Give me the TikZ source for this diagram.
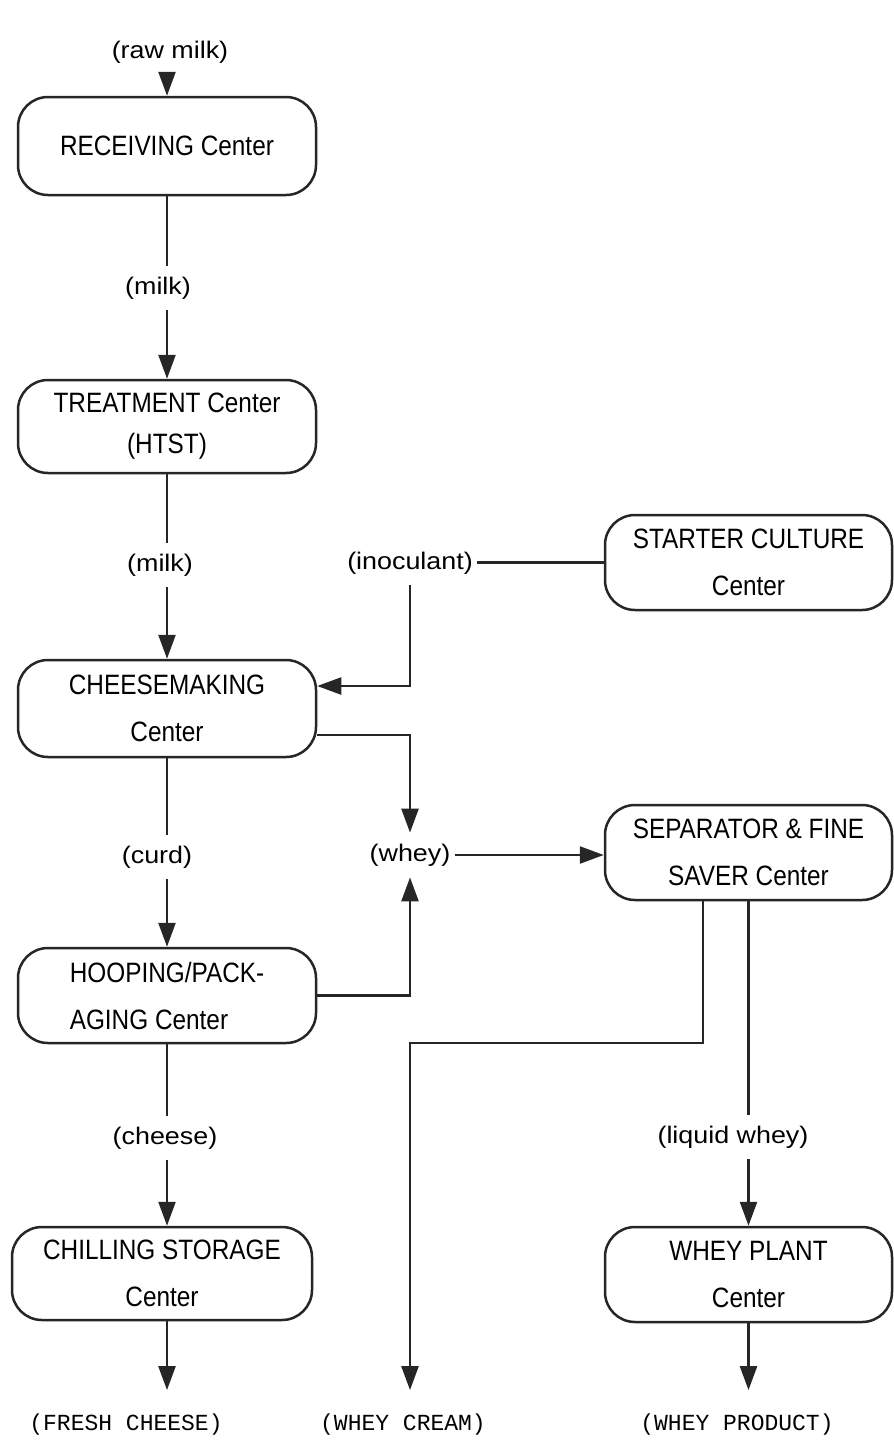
\documentclass[tikz,border=0pt]{standalone}
\usepackage{fontspec}
\setmainfont{Liberation Sans}
\newfontfamily\boxf{Liberation Sans}[FakeStretch=0.87]
\newfontfamily\lblf{Liberation Sans}[FakeStretch=1.12]
\newfontfamily\monof{Liberation Mono}
\usetikzlibrary{arrows.meta}
\tikzset{
  ctr/.style={draw=black!85, line width=2.5pt, rounded corners=30pt, minimum width=298pt,
    inner sep=0pt, align=center, font=\boxf\fontsize{28}{47}\selectfont},
  lbl/.style={font=\lblf\fontsize{24}{28}\selectfont, inner xsep=4pt, inner ysep=11pt},
  outlbl/.style={font=\monof\fontsize{23}{27}\selectfont, inner xsep=2pt, inner ysep=24pt},
  ln/.style={draw=black!85, line width=2.5pt},
  arr/.style={ln, -{Triangle[length=24pt,width=17pt]}}
}
\begin{document}
\begin{tikzpicture}[x=1pt,y=-1pt]
\useasboundingbox (0,0) rectangle (894,1452);
% centers
\node[ctr, minimum height=98pt] (rec) at (167,146) {RECEIVING Center};
\node[ctr, minimum height=93pt] (treat) at (167,426.5) {TREATMENT Center\\[-6pt](HTST)};
\node[ctr, minimum height=97pt] (chm) at (167,708.5) {CHEESEMAKING\\Center};
\node[ctr, minimum height=95pt, align=left] (hoop) at (167,995.5) {HOOPING/PACK-\\AGING Center};
\node[ctr, minimum height=93pt, minimum width=300pt] (chill) at (162,1273.5) {CHILLING STORAGE\\Center};
\node[ctr, minimum height=95pt, minimum width=287pt] (start) at (748.5,562.5) {STARTER CULTURE\\Center};
\node[ctr, minimum height=95pt, minimum width=287pt] (sep) at (748.5,852.5) {SEPARATOR \& FINE\\SAVER Center};
\node[ctr, minimum height=95pt, minimum width=287pt] (wp) at (748.5,1274.5) {WHEY PLANT\\Center};
% labels
\node[lbl] (raw) at (170,52) {(raw milk)};
\node[lbl] (m1) at (158,288) {(milk)};
\node[lbl] (m2) at (160,565) {(milk)};
\node[lbl] (inoc) at (410,563) {(inoculant)};
\node[lbl] (whey) at (410,855) {(whey)};
\node[lbl] (curd) at (157,857) {(curd)};
\node[lbl] (chs) at (165,1138) {(cheese)};
\node[lbl] (lw) at (733,1137) {(liquid whey)};
\node[outlbl] (fc) at (126,1425) {(FRESH CHEESE)};
\node[outlbl] (wc) at (403,1425) {(WHEY CREAM)};
\node[outlbl] (wpr) at (737,1425) {(WHEY PRODUCT)};
% connectors
\draw[arr] (raw.south -| rec.north) -- (rec.north);
\draw[ln] (rec.south) -- (rec.south |- m1.north);
\draw[arr] (m1.south -| treat.north) -- (treat.north);
\draw[ln] (treat.south) -- (treat.south |- m2.north);
\draw[arr] (m2.south -| chm.north) -- (chm.north);
\draw[ln] (start.west) -- (start.west -| inoc.east);
\draw[arr] (inoc.south) |- ([yshift=22.5pt]chm.east);
\draw[arr] ([yshift=-26.5pt]chm.east) -| (whey.north);
\draw[arr] (hoop.east) -| (whey.south);
\draw[arr] (whey.east) -- (whey.east -| sep.west);
\coordinate (cr) at (410,1043);
\draw[arr] ([xshift=-45.5pt]sep.south) |- (cr) -- (cr |- wc.north);
\draw[ln] (sep.south) -- (sep.south |- lw.north);
\draw[arr] (lw.south -| wp.north) -- (wp.north);
\draw[ln] (chm.south) -- (chm.south |- curd.north);
\draw[arr] (curd.south -| hoop.north) -- (hoop.north);
\draw[ln] (hoop.south) -- (hoop.south |- chs.north);
\draw[arr] (chs.south -| hoop.south) -- (hoop.south |- chill.north);
\draw[arr] (hoop.south |- chill.south) -- (hoop.south |- fc.north);
\draw[arr] (wp.south) -- (wp.south |- wpr.north);
\end{tikzpicture}
\end{document}
